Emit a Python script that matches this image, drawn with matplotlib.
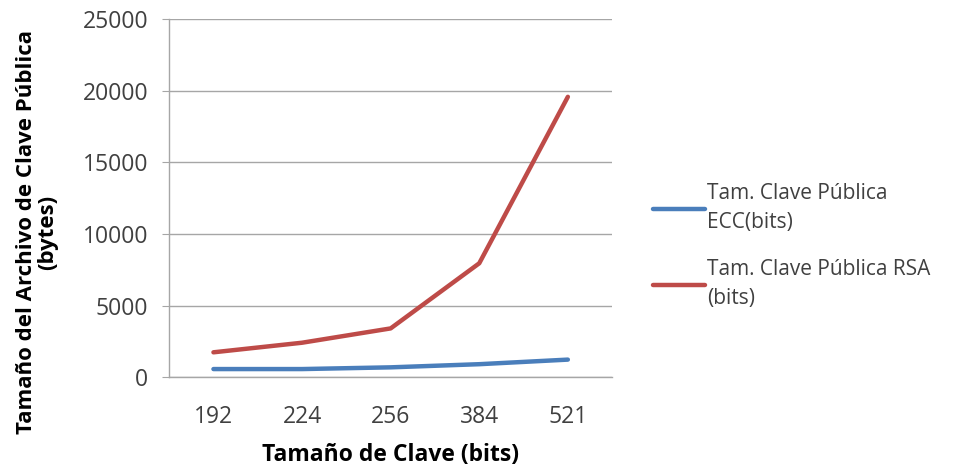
import matplotlib.pyplot as plt
import numpy as np

key_sizes = ["192", "224", "256", "384", "521"]
ecc_bytes = [560, 560, 680, 900, 1220]
rsa_bytes = [1730, 2400, 3400, 7950, 19580]

labels = ["Tam. Clave Pública\nECC(bits)", "Tam. Clave Pública RSA\n(bits)"]
colors = ["#4A7EBB", "#BE4B48"]

plt.rcParams['font.family'] = ['Open Sans', 'DejaVu Sans']

fig = plt.figure(figsize=(9.61, 4.69), dpi=100)
ax = fig.add_axes([0.176, 0.196, 0.461, 0.763])

x = np.arange(len(key_sizes))
ax.plot(x, ecc_bytes, color=colors[0], linewidth=3.2, label=labels[0],
        solid_capstyle='round')
ax.plot(x, rsa_bytes, color=colors[1], linewidth=3.2, label=labels[1],
        solid_capstyle='round')

ax.set_xlim(-0.5, len(key_sizes) - 0.5)
ax.set_ylim(0, 25000)
ax.set_yticks(np.arange(0, 25001, 5000))
ax.set_xticks(x)
ax.set_xticklabels(key_sizes)

ax.grid(axis='y', color='#A6A6A6', linewidth=1)
ax.set_axisbelow(True)
for s in ['top', 'right']:
    ax.spines[s].set_visible(False)
for s in ['left', 'bottom']:
    ax.spines[s].set_color('#A6A6A6')
    ax.spines[s].set_linewidth(1)

ax.tick_params(axis='y', length=5, color='#A6A6A6', labelsize=16.5,
               labelcolor='#404040', pad=10)
ax.tick_params(axis='x', length=0, labelsize=16.5, labelcolor='#404040', pad=20)

ax.set_xlabel("Tamaño de Clave (bits)", fontsize=16.5, fontweight='bold')
ax.xaxis.set_label_coords(0.5, -0.184)
ax.set_ylabel("Tamaño del Archivo de Clave Pública\n(bytes)", fontsize=16,
              fontweight='bold', linespacing=1.0)
ax.yaxis.set_label_coords(-0.25, 0.405)

leg = fig.legend(loc='upper left', bbox_to_anchor=(0.66, 0.65), frameon=False,
                 fontsize=15, handlelength=2.5, handletextpad=0.1,
                 labelspacing=1.25, labelcolor='#404040')
for t in leg.get_texts():
    t.set_linespacing(1.5)

fig.savefig("out.png", dpi=100)
